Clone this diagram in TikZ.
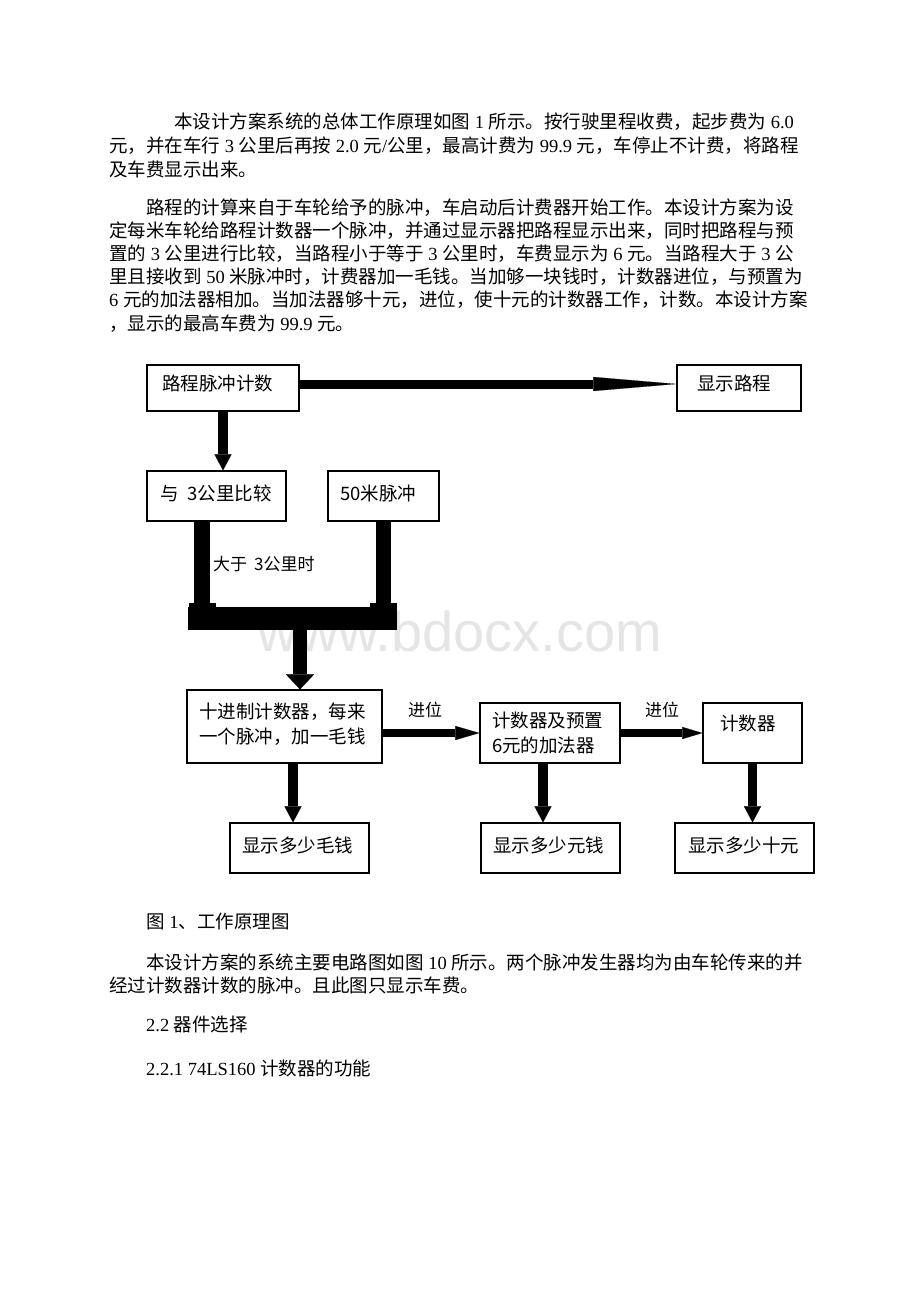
\documentclass[tikz,border=0pt]{standalone}
\usepackage{fontspec}
\setmainfont{Noto Sans CJK SC}
\newfontfamily\tnr{Liberation Serif}
\newfontfamily\wmfont{Liberation Sans}
\newcommand\ltn[1]{{\tnr #1}}
\usetikzlibrary{arrows.meta}
\begin{document}
\begin{tikzpicture}[x=1pt,y=-1pt,
  body/.style={anchor=west,inner sep=0pt,font=\fontsize{18.5}{23}\selectfont},
  box/.style={draw,line width=1.2pt,inner sep=0pt},
  btxt/.style={anchor=west,inner sep=0pt,font=\fontsize{18.5}{22}\selectfont},
  lbl/.style={anchor=west,inner sep=0pt,font=\fontsize{17}{20}\selectfont},
  vthin/.style={line width=9.5pt,-{Triangle[length=16pt,width=17pt,line width=0.1pt]}},
  hthin/.style={line width=8pt,-{Triangle[length=24pt,width=14pt,line width=0.1pt]}},
  barline/.style={line width=16pt}
]
\useasboundingbox (0,0) rectangle (920,1302);
\fill[white] (0,0) rectangle (920,1302);

% body text
\node[body] (p1a) at (174,122) {本设计方案系统的总体工作原理如图\ltn{ 1 }所示。按行驶里程收费，起步费为\ltn{ 6.0}};
\node[body] (p1b) at (109,146) {元，并在车行\ltn{ 3 }公里后再按\ltn{ 2.0 }元\ltn{/}公里，最高计费为\ltn{ 99.9 }元，车停止不计费，将路程};
\node[body] (p1c) at (109,169) {及车费显示出来。};
\node[body] (p2a) at (146,208) {路程的计算来自于车轮给予的脉冲，车启动后计费器开始工作。本设计方案为设};
\node[body] (p2b) at (109,231) {定每米车轮给路程计数器一个脉冲，并通过显示器把路程显示出来，同时把路程与预};
\node[body] (p2c) at (109,254) {置的\ltn{ 3 }公里进行比较，当路程小于等于\ltn{ 3 }公里时，车费显示为\ltn{ 6 }元。当路程大于\ltn{ 3 }公};
\node[body] (p2d) at (109,277) {里且接收到\ltn{ 50 }米脉冲时，计费器加一毛钱。当加够一块钱时，计数器进位，与预置为};
\node[body] (p2e) at (109,300) {\ltn{6 }元的加法器相加。当加法器够十元，进位，使十元的计数器工作，计数。本设计方案};
\node[body] (p2f) at (109,324) {，显示的最高车费为\ltn{ 99.9 }元。};

% watermark
\node[anchor=base,inner sep=0pt,text=black!10,font=\wmfont\fontsize{56}{60}\selectfont] (wm) at (460,651) {www.bdocx.com};

% boxes
\node[box,minimum width=152pt,minimum height=46pt] (A) at (223,388) {};
\node[box,minimum width=124pt,minimum height=46pt] (B) at (739,388) {};
\node[box,minimum width=139pt,minimum height=50pt] (C) at (216.5,496) {};
\node[box,minimum width=111pt,minimum height=50pt] (D) at (383.5,496) {};
\node[draw=none,fill=black,inner sep=0pt,minimum width=209pt,minimum height=23pt] (bar) at (292.5,618.5) {};
\node[box,minimum width=195pt,minimum height=73pt] (E) at (284.5,726.5) {};
\node[box,minimum width=140pt,minimum height=60pt] (F) at (550,733) {};
\node[box,minimum width=99pt,minimum height=60pt] (G) at (752.5,733) {};
\node[box,minimum width=139pt,minimum height=50pt] (H) at (299.5,848) {};
\node[box,minimum width=139pt,minimum height=50pt] (I) at (550.5,848) {};
\node[box,minimum width=139pt,minimum height=50pt] (J) at (744.5,848) {};

% box texts
\node[btxt] (tA) at (162,383) {路程脉冲计数};
\node[btxt] (tB) at (697,383) {显示路程};
\node[btxt] (tC) at (160,493) {与\hspace{9pt}3公里比较};
\node[btxt] (tD) at (340,493) {50米脉冲};
\node[btxt] (tE1) at (199,711.5) {十进制计数器，每来};
\node[btxt] (tE2) at (199,737) {一个脉冲，加一毛钱};
\node[btxt] (tF1) at (492,720) {计数器及预置};
\node[btxt] (tF2) at (492,745) {6元的加法器};
\node[btxt] (tG) at (720,723) {计数器};
\node[btxt] (tH) at (242,845) {显示多少毛钱};
\node[btxt] (tI) at (493,845) {显示多少元钱};
\node[btxt] (tJ) at (688,845) {显示多少十元};

% labels
\node[lbl] (l1) at (213,564) {大于\hspace{7pt}3公里时};
\node[lbl] (l2) at (408,710) {进位};
\node[lbl] (l3) at (645,710) {进位};

% connectors
\draw[line width=9pt,-{Triangle[length=83pt,width=14pt,line width=0.1pt]}]
  ([yshift=4pt]A.east) -- ([yshift=4pt]B.west);
\draw[vthin] (A.south) -- (A.south |- C.north);
\draw[barline] ([xshift=-14.5pt]C.south) -- ([xshift=-14.5pt]C.south |- bar.south);
\draw[barline,line width=15pt] (D.south) -- (D.south |- bar.south);
\fill (189,603) rectangle (216,608);
\fill (370,603) rectangle (397,608);
\draw[line width=14pt,-{Triangle[length=15pt,width=28pt,line width=0.1pt]}]
  ([xshift=7.5pt]bar.south) -- ([xshift=7.5pt]bar.south |- E.north);
\draw[hthin] ([yshift=-6.5pt]E.east) -- (F.west);
\draw[hthin,-{Triangle[length=20pt,width=12pt,line width=0.1pt]}] (F.east) -- (G.west);
\draw[vthin] ([xshift=8.5pt]E.south) -- ([xshift=8.5pt]E.south |- H.north);
\draw[vthin] ([xshift=-7pt]F.south) -- ([xshift=-7pt]F.south |- I.north);
\draw[vthin] (G.south) -- (G.south |- J.north);

% bottom text
\node[body] (cap) at (146,921) {图\ltn{ 1}、工作原理图};
\node[body] (p3a) at (146,962) {本设计方案的系统主要电路图如图\ltn{ 10 }所示。两个脉冲发生器均为由车轮传来的并};
\node[body] (p3b) at (109,985) {经过计数器计数的脉冲。且此图只显示车费。};
\node[body] (s1) at (146,1024) {\ltn{2.2 }器件选择};
\node[body] (s2) at (146,1068) {\ltn{2.2.1 74LS160 }计数器的功能};
\end{tikzpicture}
\end{document}
